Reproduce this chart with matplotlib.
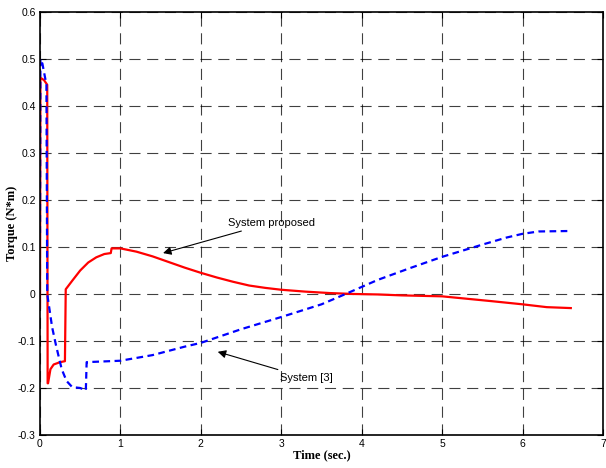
import matplotlib
matplotlib.use("Agg")
import matplotlib.pyplot as plt

# Proposed system torque (red, solid)
t_prop = [0.0, 0.005, 0.05, 0.09, 0.095, 0.1, 0.13, 0.17, 0.25, 0.31, 0.32, 0.4, 0.5,
          0.6, 0.7, 0.8, 0.88, 0.89, 1.0, 1.2, 1.4, 1.6, 1.8, 2.0, 2.2, 2.4, 2.6,
          2.8, 3.0, 3.3, 3.6, 3.9, 4.2, 4.5, 5.0, 5.3, 5.6, 6.0, 6.3, 6.6]
tq_prop = [-0.03, 0.46, 0.455, 0.445, -0.19, -0.19, -0.16, -0.15, -0.145, -0.143, 0.01,
           0.028, 0.05, 0.067, 0.078, 0.085, 0.087, 0.097, 0.097, 0.09, 0.08, 0.068,
           0.056, 0.045, 0.035, 0.026, 0.018, 0.013, 0.009, 0.005, 0.002, 0.0, -0.001,
           -0.003, -0.005, -0.01, -0.015, -0.022, -0.028, -0.03]

# System [3] torque (blue, dashed)
t_ref = [0.0, 0.005, 0.03, 0.08, 0.09, 0.15, 0.2, 0.27, 0.33, 0.4, 0.5, 0.57, 0.58,
         1.0, 1.4, 1.8, 2.0, 2.5, 3.0, 3.5, 3.8, 4.2, 4.6, 5.0, 5.5, 5.8, 6.0, 6.2, 6.6]
tq_ref = [0.13, 0.5, 0.49, 0.445, 0.0, -0.07, -0.11, -0.16, -0.185, -0.198, -0.2,
          -0.205, -0.145, -0.142, -0.13, -0.112, -0.104, -0.075, -0.049, -0.022, 0.0,
          0.03, 0.055, 0.079, 0.105, 0.12, 0.128, 0.133, 0.134]

plt.rcParams['font.family'] = ['Liberation Sans', 'DejaVu Sans']

fig = plt.figure(figsize=(6.06, 4.68), dpi=100)
ax = fig.add_axes([0.066, 0.0705, 0.929, 0.904])

ax.plot(t_prop, tq_prop, color='red', lw=1.6)
ax.plot(t_ref, tq_ref, color='blue', lw=1.6, linestyle=(0, (3, 2)))

ax.set_xlim(0, 7)
ax.set_ylim(-0.3, 0.6)
ax.set_xticks(range(0, 8))
ax.set_yticks([-0.3, -0.2, -0.1, 0, 0.1, 0.2, 0.3, 0.4, 0.5, 0.6])
ax.set_yticklabels(['-0.3', '-0.2', '-0.1', '0', '0.1', '0.2', '0.3', '0.4', '0.5', '0.6'])
ax.tick_params(direction='in', top=True, right=True, labelsize=7.5, length=4, pad=3)
ax.grid(True, color='black', linestyle=(0, (10, 6)), lw=0.8, alpha=0.75)
for s in ax.spines.values():
    s.set_linewidth(1.2)

ax.set_xlabel('Time (sec.)', family='Liberation Serif', fontweight='bold', fontsize=9, labelpad=0)
ax.set_ylabel('Torque (N*m)', family='Liberation Serif', fontweight='bold', fontsize=9, labelpad=0)

ax.annotate('System proposed', xy=(1.53, 0.087), xytext=(2.34, 0.152),
            fontsize=8, va='center', ha='left',
            arrowprops=dict(arrowstyle='-|>', color='black', lw=0.8,
                            shrinkA=2, shrinkB=0, mutation_scale=12))
ax.annotate('System [3]', xy=(2.21, -0.123), xytext=(2.99, -0.179),
            fontsize=8, va='center', ha='left',
            arrowprops=dict(arrowstyle='-|>', color='black', lw=0.8,
                            shrinkA=2, shrinkB=0, mutation_scale=12))

fig.savefig('out.png', dpi=100)
